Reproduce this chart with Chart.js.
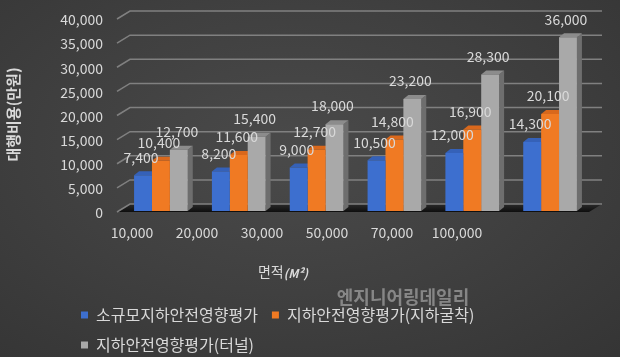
<!DOCTYPE html>
<html><head><meta charset="utf-8">
<script src="https://cdn.jsdelivr.net/npm/chart.js@4.4.0/dist/chart.umd.min.js"></script>
<style>
html,body{margin:0;padding:0;}
body{width:620px;height:357px;overflow:hidden;background:radial-gradient(ellipse 75% 80% at 47% 42%, #4a4a4a 0%, #404040 50%, #353535 100%);}
#wrap{position:relative;width:620px;height:357px;}
</style></head><body>
<div id="wrap"><canvas id="c" width="620" height="357"></canvas></div>
<script>
const categories = ['10,000','20,000','30,000','50,000','70,000','100,000'];
const seriesNames = ['소규모지하안전영향평가','지하안전영향평가(지하굴착)','지하안전영향평가(터널)'];
const smallScale = [7400, 8200, 9000, 10500, 12000, 14300];
const excavation = [10400, 11600, 12700, 14800, 16900, 20100];
const tunnel = [12700, 15400, 18000, 23200, 28300, 36000];
const yTicks = [0, 5000, 10000, 15000, 20000, 25000, 30000, 35000, 40000];
const yTitle = '대행비용(만원)';
const xTitleMain = '면적';
const xTitleUnit = '(M²)';
const watermark = '엔지니어링데일리';

const FONT = "'Noto Sans CJK KR', 'Noto Sans', sans-serif";
const TXT = '#d9d9d9';
const frontColors = ['#3d6fcf', '#f07a23', '#a9a9a9'];
const topColors = ['#3561b8', '#d9681c', '#8c8c8c'];
const sideColors = ['#2b4f96', '#b8561a', '#6e6e6e'];
const DX = 5, DY = 4, WDX = 13, WDY = 8;

Chart.defaults.font.family = FONT;

const threeD = {
  id: 'threeD',
  afterLayout(chart) {
    const lg = chart.legend;
    if (lg) {
      const w = lg.right - lg.left, h = lg.bottom - lg.top;
      lg.left = 67; lg.right = 67 + w;
      lg.top = 293; lg.bottom = 293 + h;
    }
  },
  beforeDatasetsDraw(chart) {
    const {ctx, chartArea: a, scales: {y}} = chart;
    ctx.save();
    const y0 = y.getPixelForValue(0) + 1;
    const x0 = a.left - 5;
    const g = ctx.createLinearGradient(0, y0 - WDY, 0, y0);
    g.addColorStop(0, '#2a2a2a');
    g.addColorStop(1, '#0e0e0e');
    ctx.fillStyle = g;
    ctx.beginPath();
    ctx.moveTo(x0, y0);
    ctx.lineTo(a.right, y0);
    ctx.lineTo(a.right + WDX, y0 - WDY);
    ctx.lineTo(x0 + WDX, y0 - WDY);
    ctx.closePath();
    ctx.fill();
    ctx.strokeStyle = '#808080';
    ctx.lineWidth = 1.5;
    yTicks.forEach(v => {
      const py = y.getPixelForValue(v) + 1;
      ctx.beginPath();
      ctx.moveTo(x0, py);
      ctx.lineTo(x0 + WDX, py - WDY);
      ctx.lineTo(a.right + WDX, py - WDY);
      ctx.stroke();
    });
    chart.data.datasets.forEach((ds, di) => {
      const meta = chart.getDatasetMeta(di);
      meta.data.forEach(bar => {
        const p = bar.getProps(['x', 'y', 'base', 'width'], true);
        const l = p.x - p.width / 2, r = p.x + p.width / 2;
        ctx.fillStyle = sideColors[di];
        ctx.beginPath();
        ctx.moveTo(r, p.y); ctx.lineTo(r + DX, p.y - DY);
        ctx.lineTo(r + DX, p.base - DY); ctx.lineTo(r, p.base);
        ctx.closePath(); ctx.fill();
        ctx.fillStyle = topColors[di];
        ctx.beginPath();
        ctx.moveTo(l, p.y); ctx.lineTo(l + DX, p.y - DY);
        ctx.lineTo(r + DX, p.y - DY); ctx.lineTo(r, p.y);
        ctx.closePath(); ctx.fill();
      });
    });
    ctx.restore();
  },
  afterDatasetsDraw(chart) {
    const {ctx} = chart;
    ctx.save();
    ctx.font = '14px ' + FONT;
    ctx.fillStyle = TXT;
    ctx.textAlign = 'center';
    ctx.textBaseline = 'middle';
    chart.data.datasets.forEach((ds, di) => {
      chart.getDatasetMeta(di).data.forEach((bar, i) => {
        const p = bar.getProps(['x', 'y'], true);
        ctx.fillText(ds.data[i].toLocaleString('en-US'), p.x - 2, p.y - 18);
      });
    });
    ctx.restore();
  },
  afterDraw(chart) {
    const {ctx} = chart;
    ctx.save();
    ctx.textBaseline = 'middle';
    ctx.textAlign = 'left';
    const f1 = '14px ' + FONT, f2 = 'italic bold 12px ' + FONT;
    ctx.font = f1; const w1 = ctx.measureText(xTitleMain).width;
    ctx.font = f2; const w2 = ctx.measureText(xTitleUnit).width;
    const cx = 283, cy = 272;
    let sx = cx - (w1 + w2) / 2;
    ctx.fillStyle = TXT;
    ctx.font = f1; ctx.fillText(xTitleMain, sx, cy);
    ctx.font = f2; ctx.fillText(xTitleUnit, sx + w1, cy + 1);
    ctx.font = 'bold 18px ' + FONT;
    ctx.textAlign = 'center';
    ctx.fillStyle = 'rgba(205,205,205,0.5)';
    ctx.fillText(watermark, 403, 297);
    ctx.restore();
  }
};

new Chart(document.getElementById('c'), {
  type: 'bar',
  data: {
    labels: categories,
    datasets: [
      {label: seriesNames[0], data: smallScale, backgroundColor: frontColors[0]},
      {label: seriesNames[1], data: excavation, backgroundColor: frontColors[1]},
      {label: seriesNames[2], data: tunnel, backgroundColor: frontColors[2]}
    ]
  },
  options: {
    responsive: false,
    animation: false,
    devicePixelRatio: 1,
    categoryPercentage: 0.69,
    barPercentage: 1.0,
    borderWidth: 0,
    layout: {padding: {top: 18, right: 31, left: 0, bottom: 0}},
    plugins: {
      tooltip: {enabled: false},
      legend: {
        position: 'bottom',
        fullSize: false,
        align: 'start',
        labels: {boxWidth: 7, boxHeight: 7, padding: 14, color: TXT, font: {size: 16, family: FONT}}
      }
    },
    scales: {
      x: {type: 'category', display: false, offset: true, grid: {display: false}},
      x2: {
        type: 'linear', position: 'bottom', min: -0.1538, max: 7.0308, offset: false,
        afterBuildTicks: s => { s.ticks = categories.map((_, i) => ({value: i})); },
        afterFit: s => { s.height = 76; s.paddingLeft = 0; s.paddingRight = 0; },
        ticks: {callback: (v, i) => categories[i], color: TXT, font: {size: 14}, padding: 13, autoSkip: false, maxRotation: 0},
        grid: {display: false, drawTicks: false, offset: false},
        border: {display: false}
      },
      y: {
        min: 0, max: 40000,
        afterBuildTicks: s => { s.ticks = yTicks.map(v => ({value: v})); },
        afterFit: s => { s.width = 122; s.paddingTop = 0; s.paddingBottom = 0; },
        ticks: {callback: v => v.toLocaleString('en-US'), color: TXT, font: {size: 14}, padding: 19, labelOffset: 2},
        grid: {display: false, drawTicks: false},
        border: {display: false},
        title: {display: true, text: yTitle, color: TXT, font: {size: 15, weight: 'bold'}, padding: {top: 4, bottom: 0}}
      }
    }
  },
  plugins: [threeD]
});
</script>
</body></html>
